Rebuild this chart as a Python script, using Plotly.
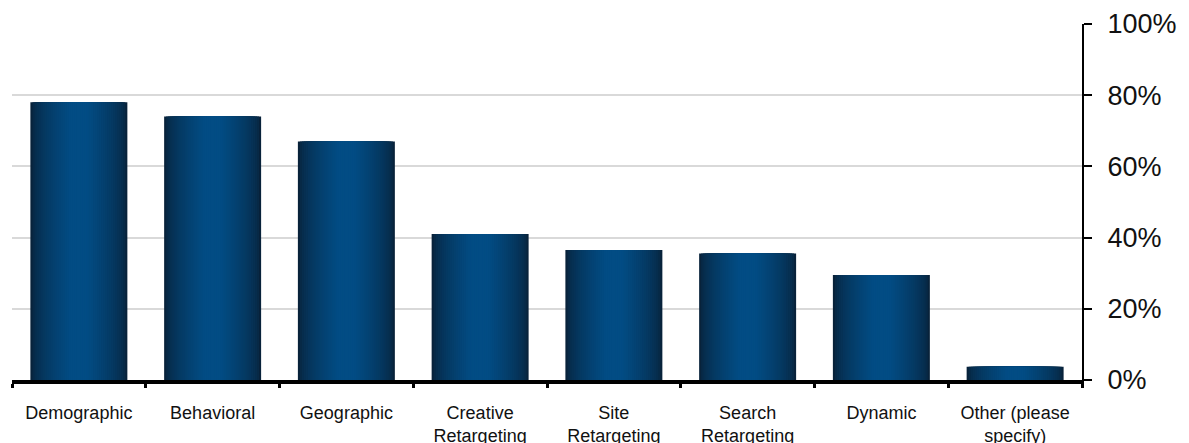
import plotly.graph_objects as go

categories = ["Demographic", "Behavioral", "Geographic", "Creative<br>Retargeting",
              "Site<br>Retargeting", "Search<br>Retargeting", "Dynamic", "Other (please<br>specify)"]
values = [78, 74, 67, 41, 36.5, 35.5, 29.5, 3.7]
tick_vals = [0, 20, 40, 60, 80, 100]
tick_text = ["0%", "20%", "40%", "60%", "80%", "100%"]

dark = (8, 34, 58)
light = (2, 76, 132)
N = 24
bar_w = 0.725

fig = go.Figure()
for i in range(N):
    t = i / (N - 1)
    f = min(1.0, (t ** 0.6) * 1.1)
    col = tuple(round(dark[k] + (light[k] - dark[k]) * f) for k in range(3))
    fig.add_trace(go.Bar(
        x=categories, y=values,
        width=bar_w * (1 - i / N),
        marker=dict(color="rgb(%d,%d,%d)" % col, line=dict(width=0)),
        showlegend=False, hoverinfo="skip",
    ))

fig.update_layout(
    width=1189, height=443,
    margin=dict(l=12, r=107, t=24, b=63),
    barmode="overlay",
    plot_bgcolor="white", paper_bgcolor="white",
    font=dict(family="Liberation Sans, Arial, sans-serif", color="#111111"),
)
fig.update_xaxes(
    showline=True, linecolor="black", linewidth=4,
    ticks="outside", tickson="boundaries", ticklen=4, tickwidth=3, tickcolor="black",
    tickfont=dict(size=18), showgrid=False, ticklabelstandoff=13, automargin=False,
)
fig.update_yaxes(
    side="right", range=[0, 100], tickvals=tick_vals, ticktext=tick_text,
    showline=True, linecolor="black", linewidth=2,
    ticks="outside", ticklen=8, tickwidth=2, tickcolor="black",
    tickfont=dict(size=27), showgrid=True, gridcolor="#d9d9d9", gridwidth=2,
    zeroline=False, ticklabelstandoff=10, automargin=False,
)
fig.write_html("out.html")
